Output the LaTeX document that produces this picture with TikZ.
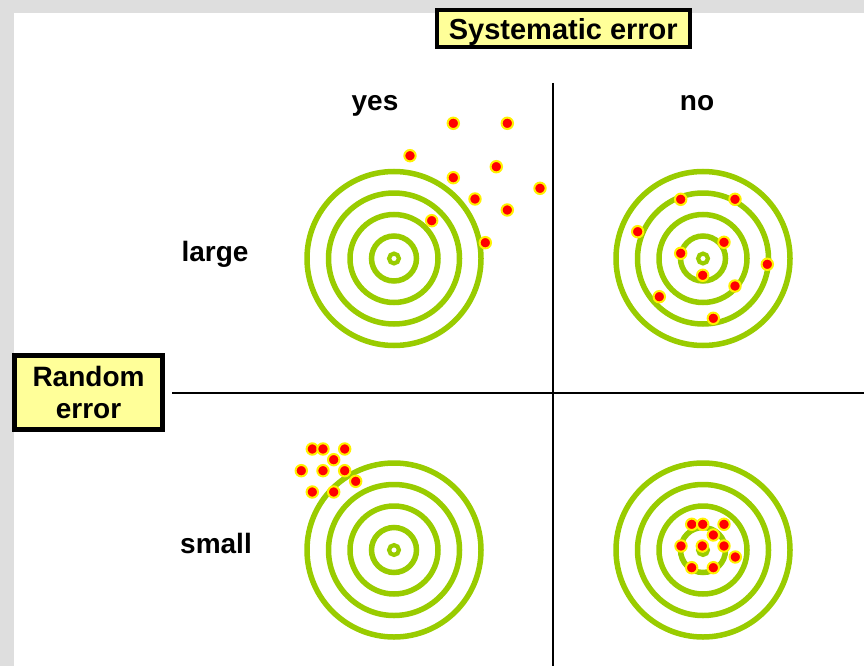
\documentclass[tikz,border=0pt]{standalone}
\usepackage{fontspec}
\setmainfont{Liberation Sans}
\definecolor{bg}{RGB}{222,222,222}
\definecolor{ringgreen}{RGB}{153,204,0}
\definecolor{boxfill}{RGB}{255,255,153}
\begin{document}
\begin{tikzpicture}[x=1pt,y=-1pt,
  lab/.style={font=\fontsize{28}{32}\selectfont\bfseries, inner sep=0pt, anchor=base},
  titlebox/.style={draw=black, fill=boxfill, inner sep=0pt},
  dot/.style={circle, fill=red, draw=yellow, line width=2pt, minimum size=11.4pt, inner sep=0pt},
  ringline/.style={draw=ringgreen, line width=5.5pt},
  axis/.style={draw=black, line width=1.8pt}]
\fill[bg] (0,0) rectangle (864,666);
\fill[white] (14,13) rectangle (864,666);
\useasboundingbox (0,0) rectangle (864,666);
% targets
\foreach \cx/\cy in {394/258.5, 703/258.5, 394/550, 703/550}{
  \foreach \r in {22.5,44,65.5,87}{
    \draw[ringline] (\cx,\cy) circle[radius=\r pt];
  }
  \draw[draw=ringgreen, line width=4.2pt] (\cx,\cy) circle[radius=4.9pt];
}
% axes
\coordinate (hl) at (172,393);
\coordinate (hr) at (864,393);
\coordinate (vt) at (553,83);
\coordinate (vb) at (553,666);
\draw[axis] (hl) -- (hr);
\draw[axis] (vt) -- (vb);
% labels
\node[lab] (yes) at (375,110.5) {yes};
\node[lab] (no) at (697,110.5) {no};
\node[lab] (large) at (215,261) {large};
\node[lab] (small) at (216,553) {small};
\node[titlebox, line width=4pt, minimum width=252.7pt, minimum height=37pt,
      text height=23pt, text depth=0pt, font=\fontsize{29}{32}\selectfont\bfseries]
      (sys) at (563.3,28.5) {Systematic error};
\node[titlebox, line width=5pt, minimum width=148pt, minimum height=74pt, align=center,
      font=\fontsize{28}{32}\selectfont\bfseries]
      (rnd) at (88.5,392.5) {Random\\error};
% dots: yes / large
\foreach \x/\y [count=\i] in {453.3/123.3, 507.3/123.3, 410/155.7, 496.3/166.7, 453.3/177.7,
    540/188.3, 475/199, 507.3/210, 431.7/220.7, 485.3/242.7}{
  \node[dot] (a\i) at (\x,\y) {};
}
% dots: no / large
\foreach \x/\y [count=\i] in {680.7/199.3, 735/199.3, 637.7/231.7, 724/242.3, 680.7/253.3,
    767.3/264.3, 702.7/275.3, 735/286, 659.3/296.7, 713.3/318.3}{
  \node[dot] (b\i) at (\x,\y) {};
}
% dots: yes / small
\foreach \x/\y [count=\i] in {312.3/449, 323/449, 344.7/449, 333.7/459.7, 301.3/470.7,
    323/470.7, 344.7/470.7, 355.7/481.3, 312.3/492, 333.7/492}{
  \node[dot] (c\i) at (\x,\y) {};
}
% dots: no / small
\foreach \x/\y [count=\i] in {691.7/524.3, 702.7/524.3, 724/524.3, 713.3/535, 681/546,
    702.3/546, 724/546, 735.3/557, 691.7/567.7, 713.3/567.7}{
  \node[dot] (e\i) at (\x,\y) {};
}
\end{tikzpicture}
\end{document}
